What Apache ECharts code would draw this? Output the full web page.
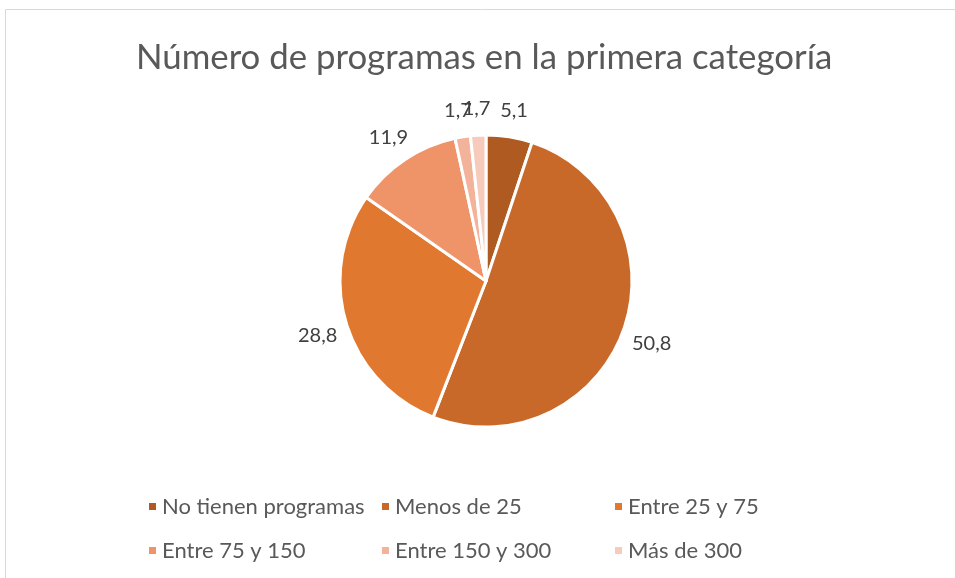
<!DOCTYPE html>
<html>
<head>
<meta charset="utf-8">
<script src="https://cdn.jsdelivr.net/npm/echarts@6/dist/echarts.min.js"></script>
<style>
	html, body { margin: 0; padding: 0; background: #fff; }
	#grafico { width: 955px; height: 578px; }
</style>
</head>
<body>
<div id="grafico"></div>
<script>
// Datos
var categorias = ['No tienen programas', 'Menos de 25', 'Entre 25 y 75', 'Entre 75 y 150', 'Entre 150 y 300', 'Más de 300'];
var porcentajes = [5.1, 50.8, 28.8, 11.9, 1.7, 1.7];
var colores = ['#AE5A21', '#C8692A', '#E0792F', '#EF9468', '#F3B39B', '#F6CBBC'];

var datos = categorias.map(function (nombre, i) {
	return { name: nombre, value: porcentajes[i] };
});

var grafico = echarts.init(document.getElementById('grafico'));

var option = {
	color: colores,
	animation: false,
	textStyle: {
		fontFamily: 'Lato, "Open Sans", sans-serif'
	},

	// Marco del grafico
	graphic: [{
		type: 'rect',
		shape: { x: 5.5, y: 9.5, width: 1000, height: 1000 },
		style: { fill: 'none', stroke: '#D9D9D9', lineWidth: 1 },
		silent: true
	}],

	title: {
		text: 'Número de programas en la primera categoría',
		left: 131,
		top: 35,
		textStyle: {
			color: '#595959',
			fontSize: 34.8,
			fontWeight: 'normal'
		}
	},

	legend: {
		data: categorias,
		left: 142,
		top: 486,
		width: 720,
		orient: 'horizontal',
		itemWidth: 9,
		itemHeight: 9,
		itemGap: 13,
		icon: 'rect',
		textStyle: {
			color: '#595959',
			fontSize: 22,
			width: 205,
			lineHeight: 31
		}
	},

	series: [{
		name: 'Programas',
		type: 'pie',
		center: [486, 281],
		radius: [0, 146],
		startAngle: 90,
		clockwise: true,
		avoidLabelOverlap: false,
		data: datos,
		itemStyle: {
			borderColor: '#fff',
			borderWidth: 3
		},
		label: {
			show: true,
			position: 'outside',
			distanceToLabelLine: 0,
			color: '#404040',
			fontSize: 20,
			formatter: function (p) {
				return String(p.value).replace('.', ',');
			}
		},
		labelLine: {
			show: false,
			length: 30,
			length2: 0
		},
		// centrar cada etiqueta sobre su punto radial
		labelLayout: {
			align: 'center',
			verticalAlign: 'middle',
			dy: 3,
			hideOverlap: false
		}
	}]
};

grafico.setOption(option);
</script>
</body>
</html>
